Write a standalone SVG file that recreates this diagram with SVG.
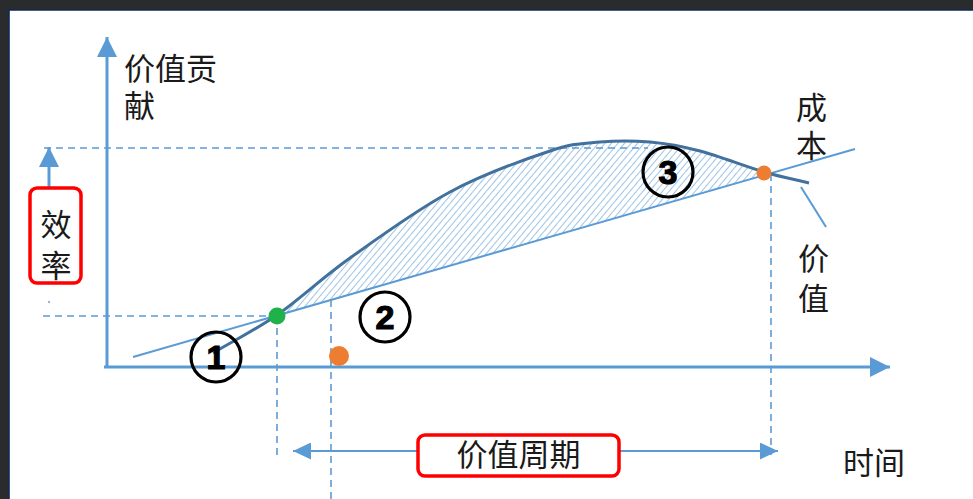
<svg xmlns="http://www.w3.org/2000/svg" width="973" height="499" viewBox="0 0 973 499">
<style>
.axis{stroke:#5b9bd5;stroke-width:3;fill:none}
.dash{stroke:#5b9bd5;stroke-width:1.6;stroke-dasharray:7,5;fill:none}
.cost{stroke:#5b9bd5;stroke-width:2;fill:none}
.value{stroke:#41719c;stroke-width:3;fill:none}
.lbl{font-family:"Liberation Sans","Noto Sans CJK SC",sans-serif;font-size:31px;fill:#1a1a1a}
.num{font-family:"Liberation Sans",Arial,sans-serif;font-weight:bold;font-size:34px;fill:#000;stroke:#000;stroke-width:1.2;text-anchor:middle}
.ring{fill:none;stroke:#000;stroke-width:3.2}
.redbox{fill:#fff;stroke:#ff0000;stroke-width:3.5}
</style>
<defs>
<marker id="ah" viewBox="0 0 10 10" refX="10" refY="5" markerWidth="20" markerHeight="20" markerUnits="userSpaceOnUse" orient="auto-start-reverse"><path d="M0,0 L10,5 L0,10 z" fill="#5b9bd5"/></marker>
<marker id="ah2" viewBox="0 0 10 10" refX="10" refY="5" markerWidth="18" markerHeight="17" markerUnits="userSpaceOnUse" orient="auto-start-reverse" preserveAspectRatio="none"><path d="M0,0 L10,5 L0,10 z" fill="#5b9bd5"/></marker>
<pattern id="hatch" width="5" height="5" patternUnits="userSpaceOnUse" patternTransform="rotate(40)"><line x1="0" y1="0" x2="0" y2="5" stroke="#5b9bd5" stroke-width="1.2"/></pattern>
<clipPath id="aboveCost"><polygon points="100,366.5 900,136.1 900,0 100,0"/></clipPath>
</defs>
<!-- frame -->
<rect x="0" y="0" width="973" height="499" fill="#2a2b2c"/>
<rect x="9" y="10" width="964" height="489" fill="#ffffff"/>
<path d="M9,499 L9,10 L973,10" fill="none" stroke="#10285a" stroke-width="1.6"/>

<!-- hatched area -->
<g id="gain-area">
<path clip-path="url(#aboveCost)" fill="url(#hatch)" d="M213,353 C234.3,340.3 254.2,330.8 277,315 C299.8,299.2 321.2,278.5 350,258 C378.8,237.5 416.7,209.8 450,192 C483.3,174.2 525,159.3 550,151 C575,142.7 583.3,143.5 600,142 C616.7,140.5 633.3,140.5 650,142 C666.7,143.5 681,146 700,151 C719,156 745.8,166.7 764,172 C782.2,177.3 794,179.3 809,183 L809,420 L213,420 Z"/>
</g>

<g id="connectors">
<line class="dash" x1="44" y1="148" x2="648" y2="148"/>
<line class="dash" x1="43" y1="316" x2="277" y2="316"/>
<line class="dash" x1="277" y1="316" x2="277" y2="458"/>
<line class="dash" x1="331" y1="300" x2="331" y2="499"/>
<line class="dash" x1="771" y1="174" x2="771" y2="455"/>
<line class="axis" x1="107" y1="368" x2="107" y2="37" marker-end="url(#ah)"/>
<line class="axis" x1="104" y1="367" x2="890" y2="367" marker-end="url(#ah)"/>
<line class="axis" x1="49" y1="191" x2="49" y2="147" marker-end="url(#ah)"/>
<circle cx="49" cy="302" r="1.2" fill="#9bb7d4"/>
<line class="cost" x1="133" y1="357" x2="855" y2="149"/>
<path class="value" d="M213,353 C234.3,340.3 254.2,330.8 277,315 C299.8,299.2 321.2,278.5 350,258 C378.8,237.5 416.7,209.8 450,192 C483.3,174.2 525,159.3 550,151 C575,142.7 583.3,143.5 600,142 C616.7,140.5 633.3,140.5 650,142 C666.7,143.5 681,146 700,151 C719,156 745.8,166.7 764,172 C782.2,177.3 794,179.3 809,183"/>
<line x1="801" y1="187" x2="826" y2="227" stroke="#5b9bd5" stroke-width="2"/>
<line x1="293" y1="451" x2="778" y2="451" stroke="#5b9bd5" stroke-width="2" marker-start="url(#ah2)" marker-end="url(#ah2)"/>
</g>

<g id="point-green"><circle cx="277" cy="316" r="8.5" fill="#1fb24a"/></g>
<g id="point-orange-end"><circle cx="764" cy="173" r="7.5" fill="#ed7d31"/></g>
<g id="point-orange-axis"><circle cx="339" cy="356" r="10" fill="#ed7d31"/></g>

<g id="marker-1"><circle class="ring" cx="216" cy="357" r="25"/><text class="num" x="216" y="369">1</text></g>
<g id="marker-2"><circle class="ring" cx="385" cy="317" r="25"/><text class="num" x="385" y="329">2</text></g>
<g id="marker-3"><circle class="ring" cx="668" cy="172" r="25"/><text class="num" x="668" y="184">3</text></g>

<g id="label-yaxis"><text class="lbl"><tspan x="124" y="80">价值贡</tspan><tspan x="124" y="117">献</tspan></text></g>
<g id="label-efficiency">
<rect class="redbox" x="30" y="188" width="51" height="95" rx="7"/>
<text class="lbl" text-anchor="middle"><tspan x="56" y="236">效</tspan><tspan x="56" y="277">率</tspan></text>
</g>
<g id="label-cost"><text class="lbl"><tspan x="796" y="119">成</tspan><tspan x="796" y="157">本</tspan></text></g>
<g id="label-value"><text class="lbl"><tspan x="798" y="270">价</tspan><tspan x="798" y="310">值</tspan></text></g>
<g id="label-period">
<rect class="redbox" x="418" y="435" width="201" height="41" rx="7"/>
<text class="lbl" x="518.5" y="466" text-anchor="middle">价值周期</text>
</g>
<g id="label-time"><text class="lbl" x="843" y="474">时间</text></g>
</svg>
